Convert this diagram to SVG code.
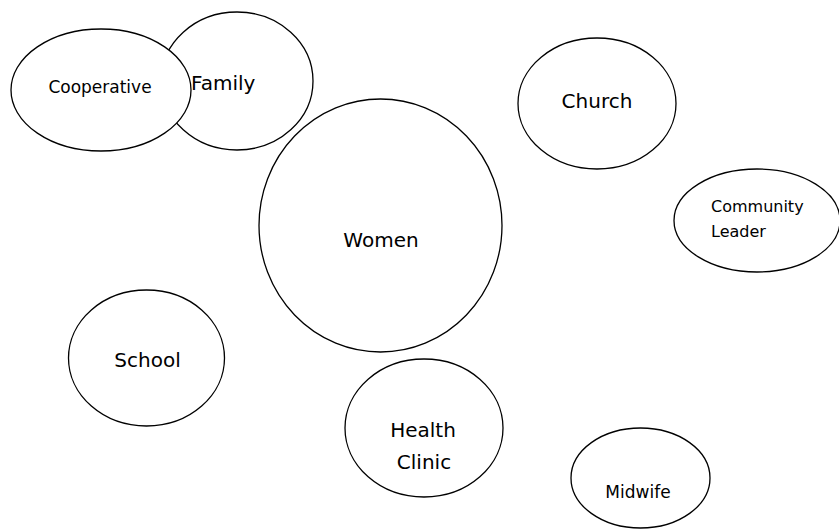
<svg xmlns="http://www.w3.org/2000/svg" width="839" height="529" viewBox="0 0 839 529">
<style>
.n{fill:#fff;stroke:#000;stroke-width:1.3}
text{font-family:"DejaVu Sans","Liberation Sans",sans-serif;fill:#000}
.l{font-size:20px}
.s{font-size:16px}
.c{text-anchor:middle}
</style>
<rect width="839" height="529" fill="#fff"/>
<g id="family"><ellipse class="n" cx="237" cy="81" rx="76" ry="69"/><text class="l" x="191" y="90">Family</text></g>
<g id="cooperative"><ellipse class="n" cx="101" cy="90" rx="90" ry="61"/><text class="s c" x="100" y="93" style="font-size:17px">Cooperative</text></g>
<g id="women"><ellipse class="n" cx="380.5" cy="225.5" rx="121.5" ry="126.5"/><text class="l c" x="381" y="247">Women</text></g>
<g id="church"><ellipse class="n" cx="597" cy="103.5" rx="79" ry="65.5"/><text class="l c" x="597" y="108">Church</text></g>
<g id="community-leader"><ellipse class="n" cx="757" cy="220.5" rx="83" ry="51.5"/><text class="s" x="711" y="212">Community</text><text class="s" x="711" y="237">Leader</text></g>
<g id="school"><ellipse class="n" cx="146.5" cy="358" rx="78" ry="68"/><text class="l c" x="147.5" y="367">School</text></g>
<g id="health-clinic"><ellipse class="n" cx="424" cy="428" rx="79" ry="69"/><text class="l c" x="423" y="437">Health</text><text class="l c" x="424" y="469">Clinic</text></g>
<g id="midwife"><ellipse class="n" cx="640.5" cy="478" rx="69.5" ry="50"/><text class="s c" x="638" y="498" style="font-size:17px">Midwife</text></g>
<g id="connectors"></g>
</svg>
